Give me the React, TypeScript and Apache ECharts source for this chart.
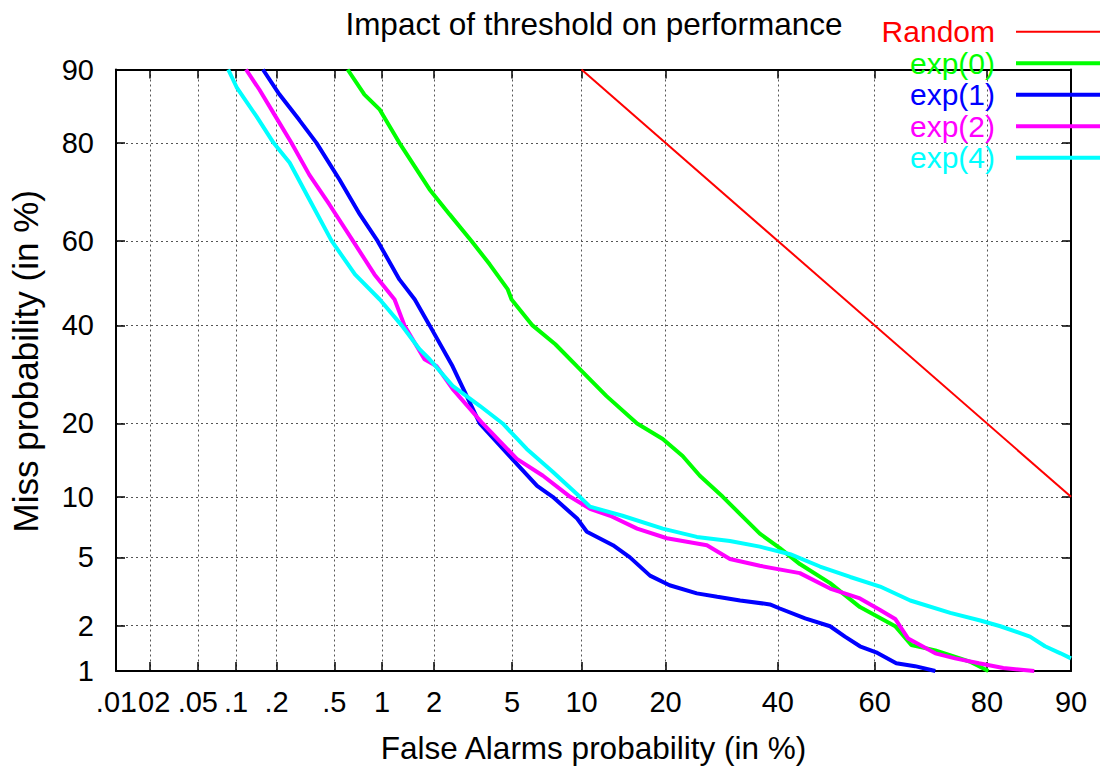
import React, { useEffect, useRef } from "react";
import * as echarts from "echarts";

// ---- Data (percent values) ----
const seriesNames = ["Random", "exp(0)", "exp(1)", "exp(2)", "exp(4)"];
const seriesColors = ["#ff0000", "#00ff00", "#0000ff", "#ff00ff", "#00ffff"];

// [false alarm %, miss %]
const randomCurve: [number, number][] = [
  [10, 90],
  [90, 10],
];

const exp0: [number, number][] = [
  [0.61, 90], [0.78, 87.1], [0.97, 85.1], [1.27, 80], [1.89, 71.3], [2.43, 66.0],
  [3.16, 60], [3.9, 54.5], [4.77, 48.5], [4.97, 46.1], [6.2, 40], [7.8, 35.7],
  [9.6, 30.9], [12.5, 24.9], [16.1, 20], [19.6, 17.5], [22.6, 15.0], [25.4, 12.4],
  [29.4, 10], [32.6, 8.3], [36.4, 6.65], [40.4, 5.6], [44.5, 4.6], [50.8, 3.6],
  [57.0, 2.6], [64.1, 1.98], [67.2, 1.5], [71.6, 1.38], [75.8, 1.22], [77.6, 1.15],
  [80.2, 1.0],
];

const exp1: [number, number][] = [
  [0.159, 90], [0.21, 87.1], [0.29, 83.6], [0.38, 80], [0.54, 73.3], [0.73, 66.0],
  [0.94, 60], [1.27, 50.9], [1.56, 46.1], [1.89, 40], [2.52, 30.9], [3.48, 20],
  [5.0, 14.6], [6.5, 11.2], [7.6, 10], [9.6, 7.9], [10.5, 6.8], [13.2, 5.8],
  [15.2, 5.0], [17.8, 3.97], [20.6, 3.5], [24.9, 3.14], [28.4, 3.0], [32.6, 2.85],
  [38.4, 2.7], [40.4, 2.55], [45.6, 2.22], [50.8, 1.98], [53.9, 1.7], [57.0, 1.47],
  [60.3, 1.34], [64.3, 1.13], [67.9, 1.08], [71.6, 1.0],
];

const exp2: [number, number][] = [
  [0.119, 90], [0.15, 87.7], [0.193, 84.4], [0.255, 80], [0.34, 74.2], [0.465, 68.1],
  [0.66, 60], [0.9, 52.1], [1.19, 46.1], [1.36, 40], [1.77, 32.4], [2.07, 30.9],
  [2.52, 26.3], [3.6, 20], [5.26, 14.6], [6.9, 12.4], [9.0, 10], [10.8, 8.8],
  [12.9, 8.15], [16.1, 7.05], [20.2, 6.3], [26.6, 5.8], [30.7, 4.9], [36.4, 4.5],
  [44.5, 4.1], [50.8, 3.35], [57.0, 2.93], [61.1, 2.5], [64.1, 2.2], [66.6, 1.65],
  [71.6, 1.32], [75.0, 1.22], [78.8, 1.13], [82.3, 1.05], [86.2, 1.0],
];

const exp4: [number, number][] = [
  [0.087, 90], [0.101, 88], [0.143, 84.1], [0.19, 80], [0.248, 76.5], [0.34, 69.2],
  [0.48, 60], [0.68, 52.1], [0.97, 46.1], [1.31, 40], [1.66, 34.6], [1.89, 32.4],
  [2.52, 26.9], [3.48, 23.1], [4.51, 20], [5.84, 16], [7.6, 12.9], [9.85, 10],
  [10.8, 9.0], [14.3, 8.15], [19.6, 7.05], [24.9, 6.4], [30.7, 6.1], [36.4, 5.7],
  [42.5, 5.2], [48.7, 4.46], [55, 3.9], [61.1, 3.44], [67, 2.85], [74.2, 2.4],
  [79, 2.15], [81.9, 1.98], [85.7, 1.7], [87.4, 1.47], [89, 1.32], [90, 1.22],
];

const curves = [randomCurve, exp0, exp1, exp2, exp4];
const lineWidths = [2, 4, 4, 4, 4];

const xTickPercents = [0.01, 0.02, 0.05, 0.1, 0.2, 0.5, 1, 2, 5, 10, 20, 40, 60, 80, 90];
const xTickLabels = [".01", ".02", ".05", ".1", ".2", ".5", "1", "2", "5", "10", "20", "40", "60", "80", "90"];
const yTickPercents = [1, 2, 5, 10, 20, 40, 60, 80, 90];
const yTickLabels = ["1", "2", "5", "10", "20", "40", "60", "80", "90"];

const xRange = [0.01, 90];
const yRange = [1, 90];

// inverse of the standard normal CDF (Acklam)
function probit(p: number): number {
  const a = [-3.969683028665376e1, 2.209460984245205e2, -2.759285104469687e2, 1.38357751867269e2, -3.066479806614716e1, 2.506628277459239];
  const b = [-5.447609879822406e1, 1.615858368580409e2, -1.556989798598866e2, 6.680131188771972e1, -1.328068155288572e1];
  const c = [-7.784894002430293e-3, -3.223964580411365e-1, -2.400758277161838, -2.549732539343734, 4.374664141464968, 2.938163982698783];
  const d = [7.784695709041462e-3, 3.224671290700398e-1, 2.445134137142996, 3.754408661907416];
  const pl = 0.02425;
  const ph = 1 - pl;
  if (p < pl) {
    const q = Math.sqrt(-2 * Math.log(p));
    return (((((c[0] * q + c[1]) * q + c[2]) * q + c[3]) * q + c[4]) * q + c[5]) /
      ((((d[0] * q + d[1]) * q + d[2]) * q + d[3]) * q + 1);
  }
  if (p <= ph) {
    const q = p - 0.5;
    const r = q * q;
    return ((((((a[0] * r + a[1]) * r + a[2]) * r + a[3]) * r + a[4]) * r + a[5]) * q) /
      (((((b[0] * r + b[1]) * r + b[2]) * r + b[3]) * r + b[4]) * r + 1);
  }
  const q = Math.sqrt(-2 * Math.log(1 - p));
  return -(((((c[0] * q + c[1]) * q + c[2]) * q + c[3]) * q + c[4]) * q + c[5]) /
    ((((d[0] * q + d[1]) * q + d[2]) * q + d[3]) * q + 1);
}

const pct = (v: number) => probit(v / 100);

const FONT = "'Liberation Sans', Arial, Helvetica, sans-serif";

export default function App() {
  const ref = useRef<HTMLDivElement>(null);

  useEffect(() => {
    if (!ref.current) return;
    const chart = echarts.init(ref.current, undefined, { renderer: "svg" });

    const xTicks = xTickPercents.map(pct);
    const yTicks = yTickPercents.map(pct);
    const labelFor = (vals: number[], labels: string[]) => (v: number) => {
      let best = 0;
      for (let i = 1; i < vals.length; i++) {
        if (Math.abs(vals[i] - v) < Math.abs(vals[best] - v)) best = i;
      }
      return labels[best];
    };

    const gridLine = { show: true, lineStyle: { color: "#555", type: [2, 3] as any, width: 1 } };
    const axisLine = { show: true, onZero: false, lineStyle: { color: "#000", width: 2 } };
    const tick = (vals: number[]) => ({
      show: true,
      inside: true,
      length: 9,
      customValues: vals,
      lineStyle: { color: "#000", width: 1.5 },
    });
    const xLabelStyle = {
      show: true,
      showMinLabel: true,
      showMaxLabel: true,
      hideOverlap: false,
      margin: 16,
      fontSize: 29,
      color: "#000",
      fontFamily: FONT,
      formatter: labelFor(xTicks, xTickLabels),
    };

    const option: any = {
      animation: false,
      textStyle: { fontFamily: FONT },
      title: {
        text: "Impact of threshold on performance",
        left: 589,
        textAlign: "center",
        top: 3,
        textStyle: { fontSize: 31.5, fontWeight: "normal", color: "#000", fontFamily: FONT },
      },
      legend: {
        orient: "vertical",
        right: 0,
        top: 16,
        align: "right",
        padding: 0,
        itemGap: 0,
        itemWidth: 84,
        itemHeight: 14,
        itemStyle: { opacity: 0, borderWidth: 0 },
        textStyle: { fontSize: 30, fontFamily: FONT, lineHeight: 31.5, padding: [0, 16, 0, 0] },
        data: seriesNames.map((n, i) => ({
          name: n,
          textStyle: { color: seriesColors[i] },
          itemStyle: { opacity: 0, borderWidth: 0 },
          lineStyle: { width: lineWidths[i], color: seriesColors[i], opacity: 1 },
        })),
      },
      grid: { left: 116, right: 31, top: 69.5, bottom: 96 },
      xAxis: [
        {
          type: "value",
          position: "bottom",
          min: pct(xRange[0]),
          max: pct(xRange[1]),
          name: "False Alarms probability (in %)",
          nameLocation: "middle",
          nameGap: 61,
          nameTextStyle: { fontSize: 31.5, color: "#000", fontFamily: FONT },
          axisLine,
          axisTick: tick(xTicks),
          axisLabel: { ...xLabelStyle, customValues: xTicks.slice(1) },
          splitLine: gridLine,
        },
        {
          type: "value",
          position: "top",
          min: pct(xRange[0]),
          max: pct(xRange[1]),
          axisLine,
          axisTick: tick(xTicks),
          axisLabel: { show: false },
          splitLine: { show: false },
        },
        {
          // carries only the first (".01") label, which overlaps ".02" as in the original
          type: "value",
          position: "bottom",
          min: pct(xRange[0]),
          max: pct(xRange[1]),
          axisLine: { show: false, onZero: false },
          axisTick: { show: false },
          axisLabel: { ...xLabelStyle, customValues: xTicks.slice(0, 1) },
          splitLine: { show: false },
        },
      ],
      yAxis: [
        {
          type: "value",
          min: pct(yRange[0]),
          max: pct(yRange[1]),
          name: "Miss probability (in %)",
          nameLocation: "middle",
          nameGap: 73,
          nameTextStyle: { fontSize: 35, color: "#000", fontFamily: FONT, padding: [0, 0, 0, 18] },
          axisLine,
          axisTick: tick(yTicks),
          axisLabel: {
            show: true,
            customValues: yTicks,
            showMinLabel: true,
            showMaxLabel: true,
            hideOverlap: false,
            margin: 22,
            fontSize: 29,
            color: "#000",
            fontFamily: FONT,
            formatter: labelFor(yTicks, yTickLabels),
          },
          splitLine: gridLine,
        },
        {
          type: "value",
          position: "right",
          min: pct(yRange[0]),
          max: pct(yRange[1]),
          axisLine,
          axisTick: tick(yTicks),
          axisLabel: { show: false },
          splitLine: { show: false },
        },
      ],
      series: curves.map((c, i) => ({
        name: seriesNames[i],
        type: "line",
        xAxisIndex: 0,
        yAxisIndex: 0,
        symbol: "none",
        showSymbol: false,
        clip: true,
        data: c.map(([fa, miss]) => [pct(fa), pct(miss)]),
        lineStyle: { color: seriesColors[i], width: lineWidths[i] },
        itemStyle: { color: seriesColors[i] },
        z: 2 + i,
      })),
    };

    chart.setOption(option);
    return () => chart.dispose();
  }, []);

  return (
    <div
      ref={ref}
      style={{ position: "fixed", left: 0, top: 0, width: 1102, height: 769, background: "#fff" }}
    />
  );
}
